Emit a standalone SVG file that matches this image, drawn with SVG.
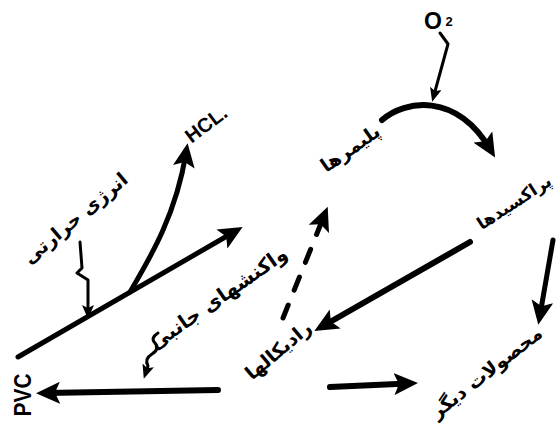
<svg xmlns="http://www.w3.org/2000/svg" width="558" height="423" viewBox="0 0 558 423">
<style>
.fa{font-family:"DejaVu Sans",sans-serif;font-weight:bold;font-size:19px;fill:#000;text-anchor:middle;dominant-baseline:central}
.en{font-family:"Liberation Sans",Arial,sans-serif;font-weight:bold;fill:#000;text-anchor:middle}
.c{fill:none;stroke:#000;stroke-linecap:round;stroke-linejoin:round}
</style>
<defs>
<marker id="big" viewBox="0 0 24 22" refX="14" refY="11" markerWidth="24" markerHeight="22" markerUnits="userSpaceOnUse" orient="auto">
<path d="M0,0 L24,11 L0,22 L5,11 Z" fill="#000"/>
</marker>
<marker id="small" viewBox="0 0 14 12" refX="7" refY="6" markerWidth="14" markerHeight="12" markerUnits="userSpaceOnUse" orient="auto">
<path d="M0,0 L14,6 L0,12 L3,6 Z" fill="#000"/>
</marker>
</defs>
<rect width="558" height="423" fill="#fff"/>
<g id="connectors">
<path class="c" stroke-width="5" d="M18,357 L234,232" marker-end="url(#big)"/>
<path class="c" stroke-width="5" d="M130,292 C150,258 176,215 186,153" marker-end="url(#big)"/>
<path class="c" stroke-width="3" d="M80,242 L82,268 L77,273 L88,280 L88,312" marker-end="url(#small)"/>
<path class="c" stroke-width="3" d="M440,33 L448,44 L434,95" marker-end="url(#small)"/>
<path class="c" stroke-width="6" d="M382,120 C405,100 456,92 490,149" marker-end="url(#big)"/>
<path class="c" stroke-width="5" d="M553,240 L540,315" marker-end="url(#big)"/>
<path class="c" stroke-width="6" d="M470,242 L323,326" marker-end="url(#big)"/>
<path class="c" stroke-width="5" stroke-dasharray="14,16" stroke-linecap="butt" d="M283,318 L324,216" marker-end="url(#big)"/>
<path class="c" stroke-width="6" d="M218,390 L46,393" marker-end="url(#big)"/>
<path class="c" stroke-width="6" d="M330,387 L408,383.5" marker-end="url(#big)"/>
<path class="c" stroke-width="3" d="M158,333 q-8,5 -3,10 q5,6 -3,11 q-8,5 -4,12 L146,372" marker-end="url(#small)"/>
</g>
<g id="node-pvc"><text class="en" font-size="24" dominant-baseline="central" transform="translate(22,395) rotate(-90)" textLength="43" lengthAdjust="spacingAndGlyphs">PVC</text></g>
<g id="node-hcl"><text class="en" font-size="20" dominant-baseline="central" transform="translate(206,124) rotate(-37)">HCL.</text></g>
<g id="node-o2"><text class="en" font-size="23" x="433" y="29">O</text><text class="en" font-size="13" x="449" y="26">2</text></g>
<g id="node-thermal"><text class="fa" transform="translate(75,218) rotate(-40)">انرژی حرارتی</text></g>
<g id="node-polymers"><text class="fa" transform="translate(350,148) rotate(-35)">پلیمرها</text></g>
<g id="node-peroxides"><text class="fa" style="font-size:17px" transform="translate(514,202) rotate(-33)">پراکسیدها</text></g>
<g id="node-radicals"><text class="fa" transform="translate(278,350) rotate(-40)">رادیکالها</text></g>
<g id="node-side"><text class="fa" style="font-size:20px" transform="translate(218,298) rotate(-35)">واکنشهای جانبی</text></g>
<g id="node-other"><text class="fa" transform="translate(486,372) rotate(-38)">محصولات دیگر</text></g>
</svg>
